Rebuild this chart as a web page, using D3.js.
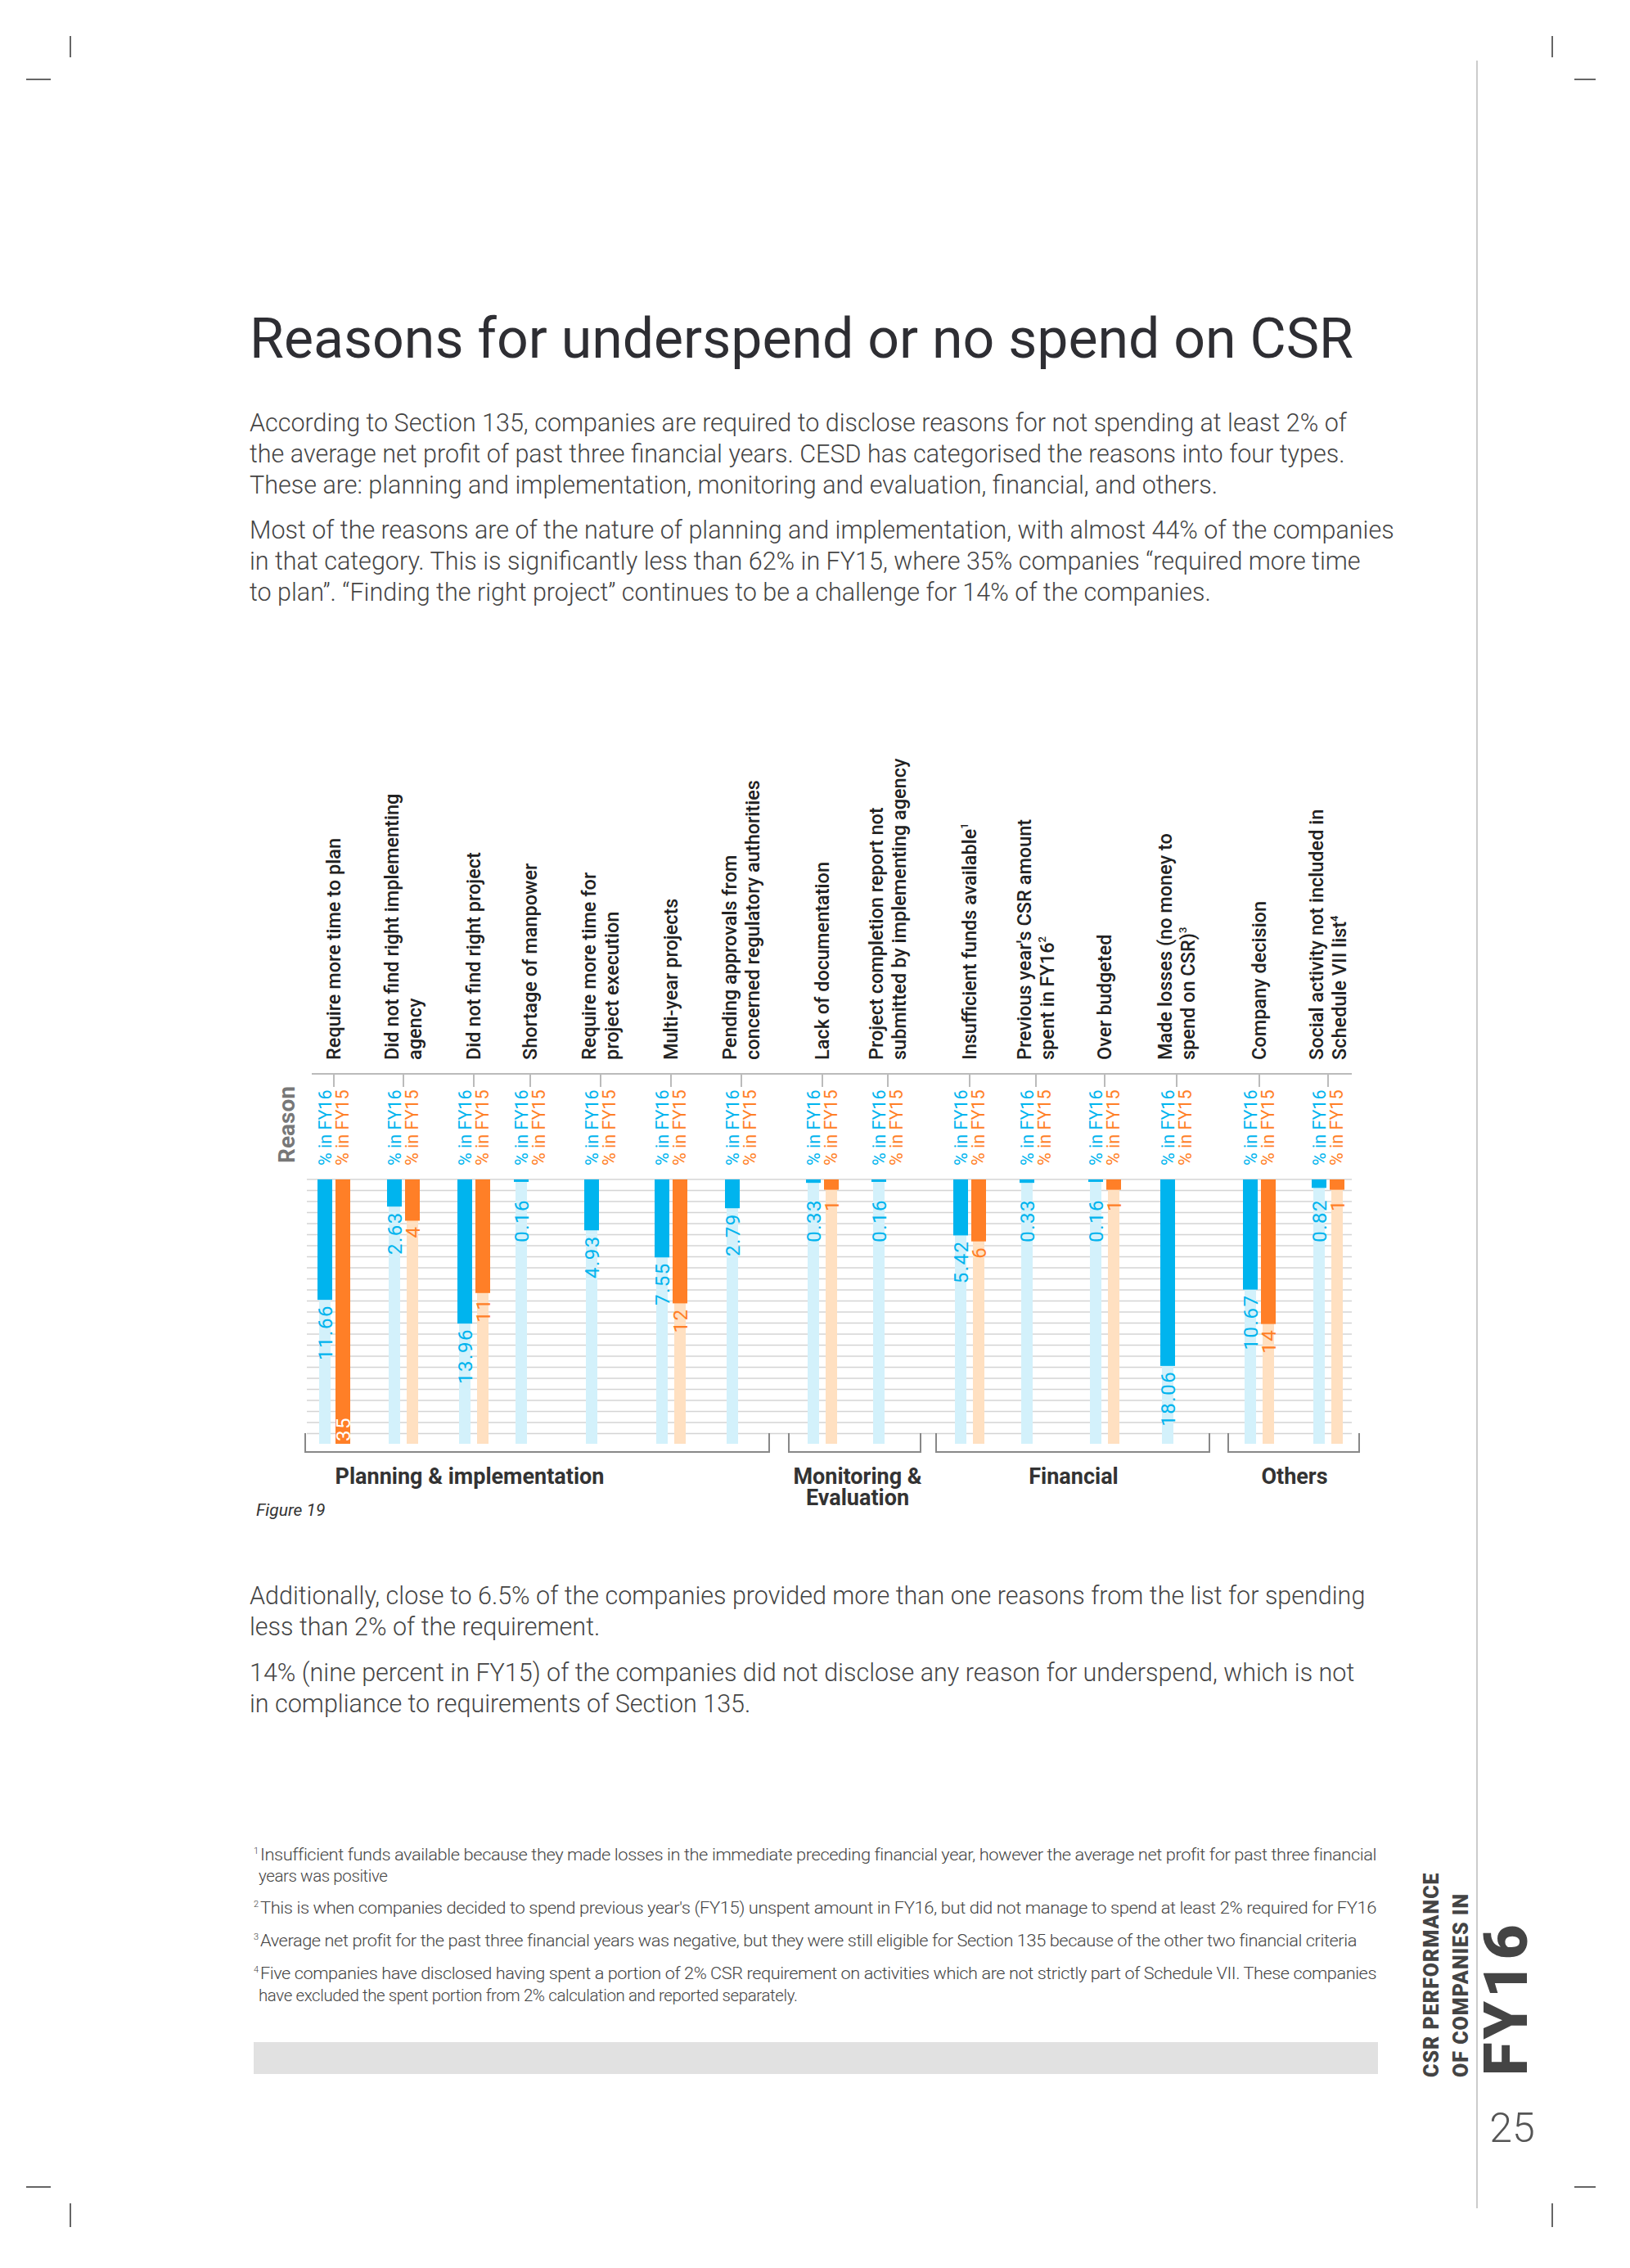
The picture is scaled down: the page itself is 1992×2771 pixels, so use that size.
<!DOCTYPE html>
<html><head><meta charset="utf-8">
<script src="https://cdn.jsdelivr.net/npm/d3@7"></script>
<style>body{margin:0;background:#fff}svg{display:block;font-family:Roboto,"Noto Sans",sans-serif}</style>
</head><body><svg id="c" width="1992" height="2771"></svg>
<script>
const categories = [
  ["Require more time to plan"],
  ["Did not find right implementing","agency"],
  ["Did not find right project"],
  ["Shortage of manpower"],
  ["Require more time for","project execution"],
  ["Multi-year projects"],
  ["Pending approvals from","concerned regulatory authorities"],
  ["Lack of documentation"],
  ["Project completion report not","submitted by implementing agency"],
  ["Insufficient funds available"],
  ["Previous year's CSR amount","spent in FY16"],
  ["Over budgeted"],
  ["Made losses (no money to","spend on CSR)"],
  ["Company decision"],
  ["Social activity not included in","Schedule VII list"]
];
const superscripts = [null,null,null,null,null,null,null,null,null,"1","2",null,"3",null,"4"];
const fy16 = [11.66,2.63,13.96,0.16,4.93,7.55,2.79,0.33,0.16,5.42,0.33,0.16,18.06,10.67,0.82];
const fy15 = [35,4,11,null,null,12,null,1,null,6,null,1,null,14,1];
const groups = [
  {name:["Planning & implementation"], from:0, to:6},
  {name:["Monitoring &","Evaluation"], from:7, to:8},
  {name:["Financial"], from:9, to:12},
  {name:["Others"], from:13, to:14}
];
const seriesLabels = ["% in FY16","% in FY15"];
const footnotes = [
  ["1","Insufficient funds available because they made losses in the immediate preceding financial year, however the average net profit for past three financial"],
  [null,"years was positive"],
  ["2","This is when companies decided to spend previous year's (FY15) unspent amount in FY16, but did not manage to spend at least 2% required for FY16"],
  ["3","Average net profit for the past three financial years was negative, but they were still eligible for Section 135 because of the other two financial criteria"],
  ["4","Five companies have disclosed having spent a portion of 2% CSR requirement on activities which are not strictly part of Schedule VII. These companies"],
  [null,"have excluded the spent portion from 2% calculation and reported separately."]
];
const para1 = ["According to Section 135, companies are required to disclose reasons for not spending at least 2% of",
 "the average net profit of past three financial years. CESD has categorised the reasons into four types.",
 "These are: planning and implementation, monitoring and evaluation, financial, and others."];
const para2 = ["Most of the reasons are of the nature of planning and implementation, with almost 44% of the companies",
 "in that category. This is significantly less than 62% in FY15, where 35% companies “required more time",
 "to plan”. “Finding the right project” continues to be a challenge for 14% of the companies."];
const para3 = ["Additionally, close to 6.5% of the companies provided more than one reasons from the list for spending",
 "less than 2% of the requirement."];
const para4 = ["14% (nine percent in FY15) of the companies did not disclose any reason for underspend, which is not",
 "in compliance to requirements of Section 135."];

const BLUE="#00b4ee", ORANGE="#ff7f27", LBLUE="#d3f1fb", LORANGE="#ffe0c1";
const svg = d3.select("#c");
const idx = d3.range(categories.length);
const x = d3.scaleOrdinal().domain(idx).range([408,493,579,648,734,820,906,1005,1085,1185,1266,1350,1438,1539,1623]);
const y0 = 1441, yMax = 1764;
const y = d3.scaleLinear().domain([0,25.6]).range([y0,yMax]).clamp(true);

// crop marks
const cm = svg.append("g").attr("stroke","#333").attr("stroke-width",1.5);
[[86,44,86,70],[32,97,62,97],[1897,44,1897,70],[1924,97,1950,97],[32,2672,62,2672],[86,2692,86,2721],[1924,2672,1950,2672],[1897,2692,1897,2721]]
 .forEach(d=>cm.append("line").attr("x1",d[0]).attr("y1",d[1]).attr("x2",d[2]).attr("y2",d[3]));

// title & paragraphs
svg.append("text").attr("x",305).attr("y",437).attr("font-size",68).attr("fill","#2e2e33").text("Reasons for underspend or no spend on CSR");
function para(lines,y1){lines.forEach((t,i)=>svg.append("text").attr("x",305).attr("y",y1+i*38).attr("font-size",30.5).attr("font-weight",300).attr("fill","#444").text(t));}
para(para1,527); para(para2,658); para(para3,1960); para(para4,2054);

// gridlines
const gridVals = d3.range(0,25.6,1.07);
svg.append("g").selectAll("line").data(gridVals).join("line")
  .attr("x1",375).attr("x2",1652).attr("y1",d=>y(d)).attr("y2",d=>y(d))
  .attr("stroke","#d4d4d4").attr("stroke-width",1.5);

// header line & ticks
svg.append("line").attr("x1",381).attr("x2",1652).attr("y1",1312).attr("y2",1312).attr("stroke","#bbb").attr("stroke-width",2);
svg.append("g").selectAll("line").data(idx).join("line")
  .attr("x1",d=>x(d)).attr("x2",d=>x(d)).attr("y1",1312).attr("y2",1328).attr("stroke","#bbb").attr("stroke-width",2);

svg.append("text").attr("transform","translate(360,1374) rotate(-90)").attr("text-anchor","middle")
  .attr("font-size",28).attr("font-weight",700).attr("fill","#777").text("Reason");

// category labels
idx.forEach(i=>{
  const lines = categories[i], c = x(i);
  const n = lines.length;
  const t = svg.append("text").attr("transform",`translate(${c+8-(n-1)*14},1295) rotate(-90)`)
    .attr("font-size",23.5).attr("fill","#222").attr("font-weight",500);
  lines.forEach((l,j)=>{
    t.append("tspan").attr("x",0).attr("y",j*28).text(l);
    if(j===n-1 && superscripts[i]) t.append("tspan").attr("font-size",13).attr("dy",-10).text(superscripts[i]);
  });
  seriesLabels.forEach((s,k)=>{
    svg.append("text").attr("transform",`translate(${c-11+k*21+8},1424) rotate(-90)`)
      .attr("font-size",21.5).attr("fill",k?ORANGE:BLUE).text(s);
  });
});

// bars
const series=[{vals:fy16,off:-20,col:BLUE,light:LBLUE},{vals:fy15,off:2,col:ORANGE,light:LORANGE}];
series.forEach(s=>{
  const data = idx.filter(i=>s.vals[i]!=null);
  svg.append("g").selectAll("rect").data(data).join("rect")
    .attr("x",i=>x(i)+s.off+2).attr("width",14).attr("y",y0).attr("height",yMax-y0).attr("fill",s.light);
  svg.append("g").selectAll("rect").data(data).join("rect")
    .attr("x",i=>x(i)+s.off).attr("width",18).attr("y",y0).attr("height",i=>Math.max(y(s.vals[i])-y0,3)).attr("fill",s.col);
  data.forEach(i=>{
    const v=s.vals[i], cx=x(i)+s.off+9, end=y(v);
    const clipped = v>25.6;
    svg.append("text").attr("transform",`translate(${cx+9},${clipped?yMax-3:Math.max(end+6,y0+24)}) rotate(-90)`)
      .attr("text-anchor",clipped?"start":"end").attr("font-size",24).attr("letter-spacing",1.5)
      .attr("fill",clipped?"#fff":s.col).text(v);
  });
});

// brackets
const bx = [[373,940],[964,1125],[1144,1478],[1501,1661]];
const lx = [574,1048,1312,1582];
const gl = svg.append("g");
groups.forEach((g,k)=>{
  const [a,b]=bx[k];
  gl.append("path").attr("d",`M${a},1751V1774H${b}V1751`).attr("fill","none").attr("stroke","#888").attr("stroke-width",2);
  const t = gl.append("text").attr("y",1813).attr("text-anchor","middle")
    .attr("font-size",27).attr("font-weight",700).attr("fill","#333");
  g.name.forEach((n,j)=>t.append("tspan").attr("x",lx[k]).attr("dy",j?26:0).text(n));
});
svg.append("text").attr("x",313).attr("y",1852).attr("font-size",21).attr("font-style","italic").attr("fill","#333").text("Figure 19");

// footnotes
const fy=[2273,2299,2338,2378,2418,2445];
footnotes.forEach((f,i)=>{
  const t=svg.append("text").attr("y",fy[i]).attr("font-size",20.5).attr("fill","#444").attr("font-weight",300).attr("letter-spacing",-0.4);
  if(f[0]){
    t.append("tspan").attr("x",310).attr("font-size",11).attr("dy",-8).text(f[0]);
    t.append("tspan").attr("dy",8).attr("x",318).attr("textLength",i===3?1340:1364).attr("lengthAdjust","spacingAndGlyphs").text(f[1]);
  } else t.append("tspan").attr("x",316).text(f[1]);
});
svg.append("rect").attr("x",310).attr("y",2495).attr("width",1374).attr("height",39).attr("fill","#e1e1e1");

// side bar
svg.append("line").attr("x1",1805).attr("x2",1805).attr("y1",74).attr("y2",2698).attr("stroke","#bbb").attr("stroke-width",1.5);
svg.append("text").attr("transform","translate(1758,2538) rotate(-90)").attr("font-size",25).attr("font-weight",900).attr("fill","#444").attr("letter-spacing",1).text("CSR PERFORMANCE");
svg.append("text").attr("transform","translate(1794,2538) rotate(-90)").attr("font-size",25).attr("font-weight",900).attr("fill","#444").attr("letter-spacing",1).text("OF COMPANIES IN");
svg.append("text").attr("transform","translate(1866,2536) rotate(-90)").attr("font-size",74).attr("font-weight",900).attr("fill","#444").attr("letter-spacing",4).text("FY16");
svg.append("text").attr("x",1848).attr("y",2617).attr("text-anchor","middle").attr("font-size",50).attr("font-weight",300).attr("fill","#555").text("25");
</script></body></html>
